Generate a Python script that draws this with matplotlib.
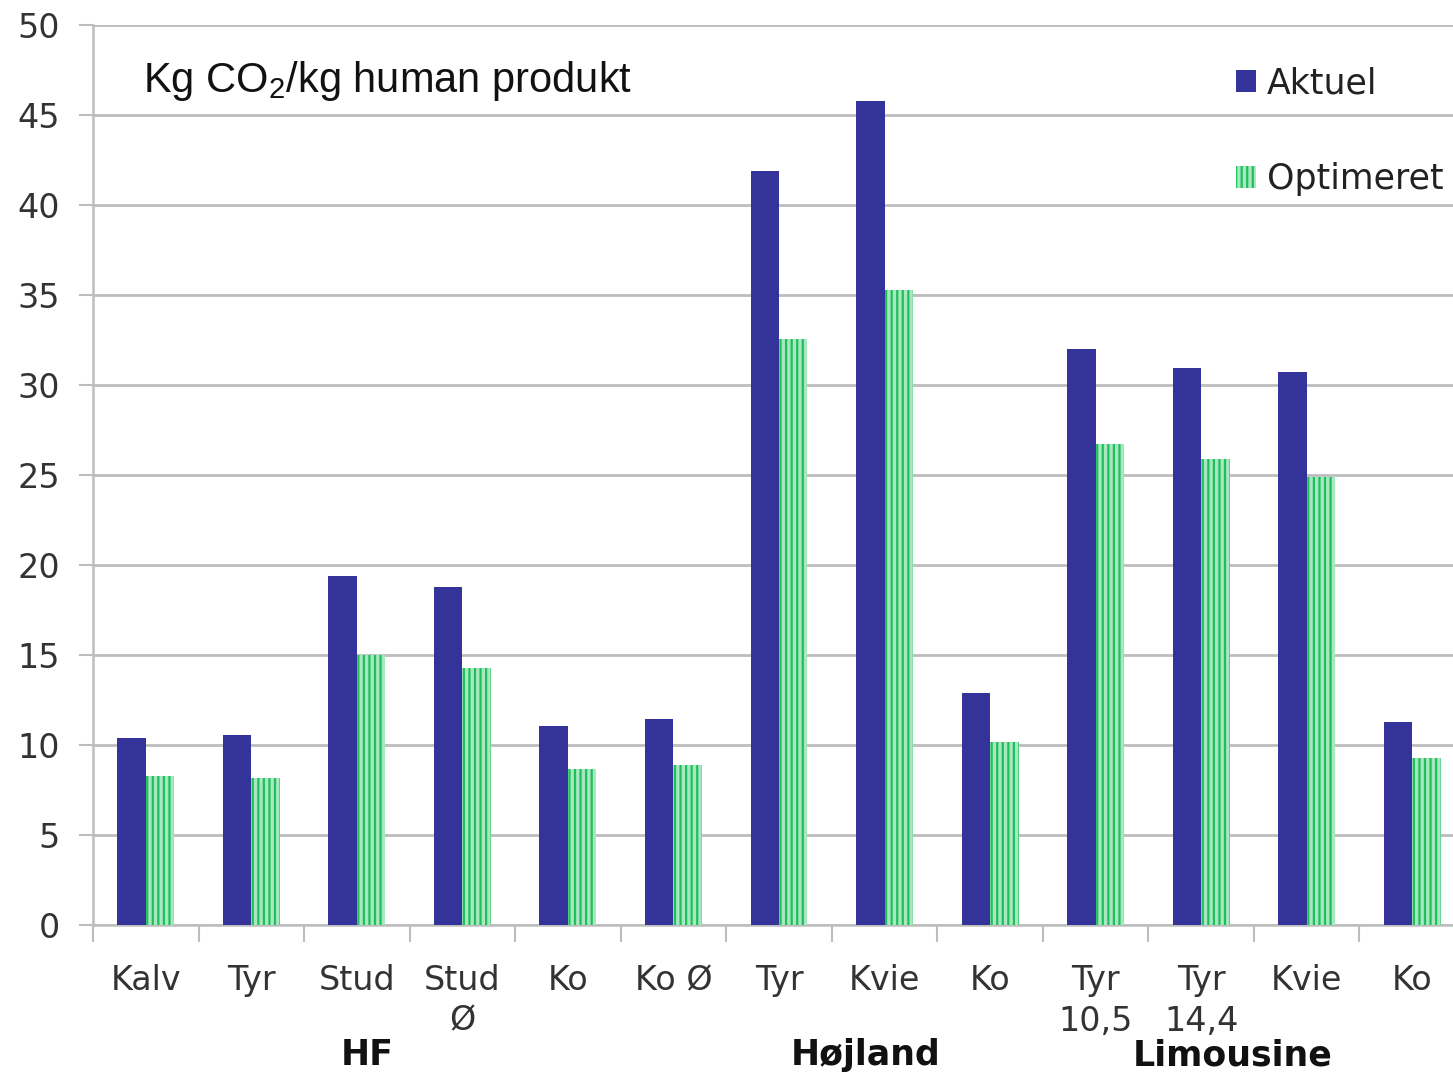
import matplotlib

matplotlib.use("Agg")
import matplotlib.pyplot as plt
import numpy as np
from matplotlib.patches import Patch

# Kg CO2 pr. kg human produkt, aktuel vs. optimeret produktion
categories = ["Kalv", "Tyr", "Stud", "Stud\nØ", "Ko", "Ko Ø",
              "Tyr", "Kvie", "Ko",
              "Tyr\n10,5", "Tyr\n14,4", "Kvie", "Ko"]
aktuel = [10.4, 10.55, 19.4, 18.8, 11.05, 11.45,
          41.9, 45.8, 12.9,
          32.0, 30.95, 30.7, 11.3]
optimeret = [8.3, 8.15, 15.0, 14.3, 8.65, 8.9,
             32.55, 35.3, 10.15,
             26.7, 25.9, 24.9, 9.3]
groups = ["HF", "Højland", "Limousine"]
group_x = [2.1, 6.82, 10.3]
y_ticks = list(range(0, 51, 5))

DARK = "#333399"
GREEN_LINE = "#1fbf5c"
GREEN_FILL = "#a8e8c0"
GRID = "#bdbdbd"
TEXT = "#333333"

plt.rcParams["font.family"] = ["DejaVu Sans"]
plt.rcParams["mathtext.fontset"] = "custom"
plt.rcParams["mathtext.rm"] = "Liberation Sans"
plt.rcParams["mathtext.it"] = "Liberation Sans"
plt.rcParams["hatch.linewidth"] = 1.6

W, H = 1453, 1078
fig = plt.figure(figsize=(W / 100, H / 100), dpi=100)
# plot area runs a little past the right edge of the figure
ax = fig.add_axes([93 / W, 153 / H, 1372 / W, 900 / H])

x = np.arange(len(categories))
w = 0.27
ax.bar(x - w / 2, aktuel, width=w, color=DARK, linewidth=0, zorder=3)
ax.bar(x + w / 2, optimeret, width=w, facecolor=GREEN_FILL, edgecolor=GREEN_LINE,
       hatch="|||", linewidth=0, zorder=3)

ax.set_xlim(-0.5, len(categories) - 0.5)
ax.set_ylim(0, 50)
ax.set_yticks(y_ticks)
ax.tick_params(axis="y", labelsize=24, labelcolor=TEXT, color=GRID,
               length=10, width=1.5, pad=14)
ax.yaxis.grid(True, color=GRID, linewidth=2)
ax.set_axisbelow(True)

# tick marks between categories, labels centred under each pair of bars
ax.set_xticks(np.arange(-0.5, len(categories), 1))
ax.set_xticklabels([])
ax.set_xticks(x, minor=True)
ax.set_xticklabels(categories, minor=True, fontsize=24, color=TEXT, va="top",
                   linespacing=1.3)
ax.tick_params(axis="x", which="major", color=GRID, length=12, width=1.5)
ax.tick_params(axis="x", which="minor", length=0, pad=28)

for side in ["top", "right"]:
    ax.spines[side].set_visible(False)
for side in ["left", "bottom"]:
    ax.spines[side].set_color(GRID)
    ax.spines[side].set_linewidth(1.8)

for name, gx in zip(groups, group_x):
    fig.text((93 + (gx + 0.5) * 1372 / 13) / W, (H - 1055) / H, name,
             fontsize=25, fontweight="bold", ha="center", va="center",
             color="#111111")

fig.text(143 / W, (H - 81) / H, r"Kg CO$_2$/kg human produkt",
         fontsize=30, family="Liberation Sans", ha="left", va="center",
         color="#111111")

handles = [Patch(facecolor=DARK, linewidth=0),
           Patch(facecolor=GREEN_FILL, edgecolor=GREEN_LINE, hatch="|||", linewidth=0)]
leg = fig.legend(handles, ["Aktuel", "Optimeret"], loc="upper left",
                 bbox_to_anchor=(1236 / W, (H - 66) / H),
                 frameon=False, fontsize=25, handlelength=0.58, handleheight=0.58,
                 handletextpad=0.3, labelspacing=1.8, borderpad=0, borderaxespad=0)
for t in leg.get_texts():
    t.set_color("#222222")

fig.savefig("out.png", dpi=100)
